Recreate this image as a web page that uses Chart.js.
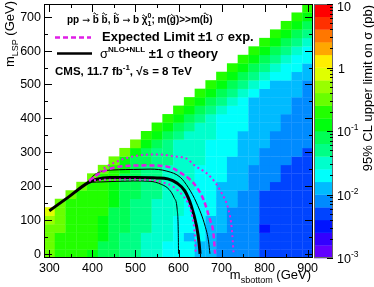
<!DOCTYPE html>
<html>
<head>
<meta charset="utf-8">
<script src="https://cdn.jsdelivr.net/npm/chart.js@4.4.0/dist/chart.umd.min.js"></script>
<style>
  html, body { margin: 0; padding: 0; background: #fff; }
  canvas { display: block; }
</style>
</head>
<body>
<canvas id="limitChart" width="374" height="287"></canvas>
<script>
// grid of signal points (GeV), 25 GeV steps
const msbottom = [300, 325, 350, 375, 400, 425, 450, 475, 500, 525, 550, 575, 600,
                  625, 650, 675, 700, 725, 750, 775, 800, 825, 850, 875, 900];
const mlsp = [0, 25, 50, 75, 100, 125, 150, 175, 200, 225, 250, 275, 300, 325, 350,
              375, 400, 425, 450, 475, 500, 525, 550, 575, 600, 625, 650, 675, 700, 725];

// 95% CL upper limit on sigma (pb), one list per msbottom column, mLSP = 0 upwards
const upperLimit = [
  [0.32, 0.32, 0.32, 0.32, 0.5, 0.8],
  [0.2, 0.2, 0.2, 0.32, 0.32, 0.32, 0.32],
  [0.2, 0.2, 0.2, 0.2, 0.2, 0.2, 0.2, 0.32],
  [0.2, 0.2, 0.2, 0.2, 0.2, 0.2, 0.2, 0.2, 0.32],
  [0.13, 0.2, 0.2, 0.2, 0.2, 0.2, 0.2, 0.2, 0.2, 0.32],
  [0.08, 0.08, 0.13, 0.13, 0.13, 0.2, 0.2, 0.2, 0.2, 0.2, 0.32],
  [0.08, 0.08, 0.08, 0.08, 0.08, 0.08, 0.13, 0.13, 0.13, 0.2, 0.2, 0.32],
  [0.05, 0.05, 0.05, 0.08, 0.08, 0.08, 0.08, 0.08, 0.08, 0.08, 0.13, 0.13, 0.32],
  [0.05, 0.05, 0.05, 0.05, 0.05, 0.05, 0.05, 0.08, 0.08, 0.08, 0.08, 0.08, 0.13, 0.32],
  [0.032, 0.032, 0.032, 0.05, 0.05, 0.05, 0.05, 0.05, 0.05, 0.05, 0.05, 0.08, 0.08, 0.13, 0.2],
  [0.032, 0.032, 0.032, 0.032, 0.032, 0.032, 0.032, 0.05, 0.05, 0.05, 0.05, 0.05, 0.05, 0.08, 0.13, 0.2],
  [0.02, 0.02, 0.032, 0.032, 0.032, 0.032, 0.032, 0.032, 0.032, 0.032, 0.032, 0.05, 0.05, 0.05, 0.08, 0.13, 0.2],
  [0.02, 0.02, 0.02, 0.02, 0.02, 0.032, 0.032, 0.032, 0.032, 0.032, 0.032, 0.032, 0.032, 0.032, 0.05, 0.08, 0.13, 0.2],
  [0.02, 0.02, 0.013, 0.02, 0.02, 0.02, 0.02, 0.02, 0.032, 0.032, 0.032, 0.032, 0.032, 0.032, 0.032, 0.05, 0.08, 0.13, 0.2],
  [0.013, 0.013, 0.02, 0.02, 0.02, 0.02, 0.02, 0.02, 0.02, 0.02, 0.02, 0.032, 0.032, 0.032, 0.032, 0.032, 0.05, 0.08, 0.13, 0.2],
  [0.013, 0.013, 0.013, 0.013, 0.013, 0.02, 0.02, 0.02, 0.02, 0.02, 0.02, 0.02, 0.02, 0.02, 0.032, 0.032, 0.032, 0.05, 0.08, 0.13, 0.2],
  [0.008, 0.008, 0.008, 0.013, 0.013, 0.013, 0.013, 0.013, 0.013, 0.02, 0.02, 0.02, 0.02, 0.02, 0.02, 0.02, 0.02, 0.032, 0.05, 0.08, 0.13, 0.2],
  [0.008, 0.008, 0.008, 0.008, 0.008, 0.008, 0.013, 0.013, 0.013, 0.013, 0.013, 0.013, 0.02, 0.02, 0.02, 0.02, 0.02, 0.02, 0.032, 0.05, 0.08, 0.13, 0.2],
  [0.008, 0.008, 0.008, 0.008, 0.008, 0.008, 0.008, 0.008, 0.013, 0.013, 0.013, 0.013, 0.013, 0.013, 0.013, 0.02, 0.02, 0.02, 0.02, 0.032, 0.05, 0.08, 0.13, 0.2],
  [0.008, 0.008, 0.008, 0.008, 0.008, 0.008, 0.008, 0.008, 0.008, 0.008, 0.008, 0.013, 0.013, 0.013, 0.013, 0.013, 0.013, 0.013, 0.013, 0.02, 0.032, 0.05, 0.08, 0.13, 0.2],
  [0.005, 0.005, 0.005, 0.0032, 0.005, 0.005, 0.005, 0.005, 0.008, 0.008, 0.008, 0.008, 0.008, 0.013, 0.013, 0.013, 0.013, 0.013, 0.013, 0.013, 0.02, 0.032, 0.05, 0.08, 0.13, 0.2],
  [0.005, 0.005, 0.005, 0.005, 0.005, 0.005, 0.005, 0.005, 0.005, 0.008, 0.008, 0.008, 0.008, 0.008, 0.008, 0.013, 0.013, 0.013, 0.013, 0.013, 0.013, 0.02, 0.032, 0.05, 0.08, 0.13, 0.2],
  [0.005, 0.005, 0.005, 0.005, 0.005, 0.005, 0.005, 0.005, 0.005, 0.005, 0.005, 0.008, 0.008, 0.008, 0.008, 0.008, 0.008, 0.013, 0.013, 0.013, 0.013, 0.02, 0.02, 0.032, 0.05, 0.08, 0.13, 0.2],
  [0.005, 0.005, 0.005, 0.005, 0.005, 0.005, 0.005, 0.005, 0.005, 0.005, 0.005, 0.005, 0.008, 0.008, 0.008, 0.008, 0.008, 0.008, 0.008, 0.013, 0.013, 0.013, 0.02, 0.02, 0.032, 0.05, 0.08, 0.13, 0.2],
  [0.005, 0.005, 0.005, 0.005, 0.005, 0.005, 0.005, 0.005, 0.005, 0.005, 0.005, 0.005, 0.005, 0.008, 0.008, 0.008, 0.008, 0.008, 0.008, 0.008, 0.008, 0.013, 0.013, 0.02, 0.02, 0.032, 0.05, 0.08, 0.13, 0.2]
];

// exclusion contours (msbottom, mLSP) in GeV
const obsMsb = [300, 345, 390, 410, 440, 500, 550, 575, 596, 615, 630, 642, 648, 650];
const obsMlsp = [127, 168, 210, 220, 225, 225, 224, 221, 209, 185, 140, 81, 30, 0];
const theoryUpMsb = [300, 345, 385, 400, 420, 460, 495, 534, 573, 604, 623, 642, 662, 670, 673];
const theoryUpMlsp = [127, 168, 205, 228, 243, 248, 249, 250, 244, 226, 195, 150, 81, 35, 0];
const theoryDownMsb = [300, 345, 385, 400, 418, 496, 534, 560, 578, 590, 597, 599.5, 600];
const theoryDownMlsp = [127, 168, 205, 211, 212, 215, 214, 205, 190, 165, 130, 60, 0];
const expMsb = [392, 420, 449, 490, 526, 572, 611, 638, 658, 673, 681, 685];
const expMlsp = [216, 240, 254, 260, 261, 258, 234, 204, 160, 101, 62, 0];
const expUpMsb = [400, 415, 434, 480, 534, 557, 588, 619, 636, 673, 700, 716, 724, 728];
const expUpMlsp = [222, 240, 258, 283, 293, 293, 288, 281, 262, 229, 180, 131, 72, 0];
const expDownMsb = [392, 420, 480, 534, 565, 588, 611, 622, 632, 638, 640];
const expDownMlsp = [216, 218, 219, 218, 210, 198, 170, 150, 110, 55, 0];

// axis ticks
const xTickLabels = [300, 400, 500, 600, 700, 800, 900];
const xMinorTicks = [350, 450, 550, 650, 750, 850];
const yTickLabels = [0, 100, 200, 300, 400, 500, 600, 700];
const yMinorTicks = [50, 150, 250, 350, 450, 550, 650];
const zTickExponents = [1, 0, -1, -2, -3];

const FONT = "'Liberation Sans', Arial, Helvetica, sans-serif";
const MAGENTA = '#e01ee6';
const binHalf = 12.5;

function toPoints(xs, ys) {
  return xs.map((v, i) => ({ x: v, y: ys[i] }));
}

// ROOT "pretty" palette, 20 contour bands over 10^-3 .. 10
function bandIndex(v) {
  const k = Math.floor((Math.log10(v) + 3) * 5 + 1e-6);
  return Math.max(0, Math.min(19, k));
}
function bandColor(k) {
  const idx = Math.floor((k + 0.99) * 50 / 20);
  const hue = 280 - (idx + 1) * 5.6;
  return 'hsl(' + hue + ',100%,50%)';
}

function drawTilde(ctx, cx, cy, w) {
  ctx.beginPath();
  for (let t = 0; t <= 1.001; t += 0.1) {
    const px = cx - w / 2 + t * w;
    const py = cy - 1.1 * Math.sin(t * 2 * Math.PI);
    if (t === 0) ctx.moveTo(px, py); else ctx.lineTo(px, py);
  }
  ctx.lineWidth = 1;
  ctx.strokeStyle = '#000';
  ctx.stroke();
}

// draw a run of text pieces (sizes, shifts, tildes); returns width
function drawParts(ctx, x, y, parts, dryRun) {
  let cx = x;
  parts.forEach(p => {
    ctx.font = (p.bold === false ? '' : 'bold ') + p.size + 'px ' + (p.family || FONT);
    const w = ctx.measureText(p.t).width;
    if (!dryRun) {
      ctx.fillText(p.t, cx, y + (p.dy || 0));
      if (p.tilde) drawTilde(ctx, cx + w / 2, y - p.tilde, Math.max(4.5, w * 0.75));
    }
    if (!p.stack) cx += w;
  });
  return cx - x;
}

const heatmapPlugin = {
  id: 'heatmap',
  beforeDatasetsDraw(chart) {
    const { ctx, chartArea: a, scales: { x, y, z } } = chart;
    ctx.save();
    ctx.beginPath();
    ctx.rect(a.left, a.top, a.right - a.left, a.bottom - a.top);
    ctx.clip();
    msbottom.forEach((ms, i) => {
      upperLimit[i].forEach((v, j) => {
        const m = mlsp[j];
        const x0 = x.getPixelForValue(ms - binHalf);
        const x1 = x.getPixelForValue(ms + binHalf);
        const y0 = y.getPixelForValue(m + binHalf);
        const y1 = y.getPixelForValue(m - binHalf);
        ctx.fillStyle = bandColor(bandIndex(v));
        ctx.fillRect(x0, y0, x1 - x0 + 0.3, y1 - y0 + 0.3);
      });
    });
    ctx.restore();

    // colour bar on the z (log) scale
    ctx.save();
    const bx0 = 314, bx1 = 333;
    for (let k = 0; k < 20; k++) {
      const lo = Math.pow(10, -3 + k / 5);
      const hi = Math.pow(10, -3 + (k + 1) / 5);
      const yt = z.getPixelForValue(hi);
      const yb = z.getPixelForValue(lo);
      ctx.fillStyle = bandColor(k);
      ctx.fillRect(bx0, yt, bx1 - bx0, yb - yt + 0.3);
    }
    ctx.strokeStyle = '#666';
    ctx.lineWidth = 1;
    ctx.strokeRect(bx0 + 0.5, a.top + 0.5, bx1 - bx0 - 1, a.bottom - a.top - 1);
    ctx.restore();
  },
  afterDraw(chart) {
    const { ctx, chartArea: a, scales: { x, y, z } } = chart;
    ctx.save();
    // frame
    ctx.strokeStyle = '#000';
    ctx.lineWidth = 1;
    ctx.strokeRect(a.left + 0.5, a.top + 0.5, a.right - a.left - 1, a.bottom - a.top - 1);

    // ticks on all four sides
    ctx.beginPath();
    xTickLabels.concat(xMinorTicks).forEach(v => {
      const px = Math.round(x.getPixelForValue(v)) + 0.5;
      const len = v % 100 === 0 ? 8 : 4;
      ctx.moveTo(px, a.bottom); ctx.lineTo(px, a.bottom - len);
      ctx.moveTo(px, a.top); ctx.lineTo(px, a.top + len);
    });
    yTickLabels.concat(yMinorTicks).forEach(v => {
      const py = Math.round(y.getPixelForValue(v)) + 0.5;
      const len = v % 100 === 0 ? 8 : 4;
      ctx.moveTo(a.left, py); ctx.lineTo(a.left + len, py);
      ctx.moveTo(a.right, py); ctx.lineTo(a.right - len, py);
    });
    ctx.stroke();

    // colour bar ticks
    ctx.beginPath();
    zTickExponents.forEach(e => {
      for (let d = 1; d <= 9; d++) {
        const v = d * Math.pow(10, e);
        if (v > 10.0001 || v < 0.00099) continue;
        const py = Math.round(z.getPixelForValue(v)) + 0.5;
        const len = d === 1 ? 6 : 3;
        ctx.moveTo(333, py); ctx.lineTo(333 - len, py);
      }
    });
    ctx.stroke();

    ctx.fillStyle = '#000';
    // x tick labels
    ctx.font = '12.5px ' + FONT;
    ctx.textAlign = 'center';
    ctx.textBaseline = 'alphabetic';
    xTickLabels.forEach(v => ctx.fillText(String(v), x.getPixelForValue(v), 272));
    // y tick labels
    ctx.textAlign = 'right';
    ctx.textBaseline = 'middle';
    yTickLabels.forEach(v => ctx.fillText(String(v), 41, y.getPixelForValue(v) + 0.5));

    // colour bar labels
    ctx.textAlign = 'left';
    ctx.textBaseline = 'middle';
    zTickExponents.forEach(e => {
      const py = Math.max(8, z.getPixelForValue(Math.pow(10, e)) + 2);
      ctx.font = '12.5px ' + FONT;
      if (e === 0) { ctx.fillText('1', 338, py); return; }
      ctx.fillText('10', 337, py);
      if (e < 0) {
        const w = ctx.measureText('10').width;
        ctx.font = '8.5px ' + FONT;
        ctx.fillText(String(e), 337 + w, py - 5);
      }
    });

    // axis titles
    ctx.textBaseline = 'alphabetic';
    ctx.textAlign = 'left';
    const xTitle = [
      { t: 'm', size: 13, bold: false },
      { t: 'sbottom', size: 9, bold: false, dy: 3.5 },
      { t: ' (GeV)', size: 13, bold: false }
    ];
    const xw = drawParts(ctx, 0, 0, xTitle, true);
    drawParts(ctx, 311 - xw, 279, xTitle);

    const yTitle = [
      { t: 'm', size: 13, bold: false },
      { t: 'LSP', size: 9, bold: false, dy: 3.5 },
      { t: ' (GeV)', size: 13, bold: false }
    ];
    const yw = drawParts(ctx, 0, 0, yTitle, true);
    ctx.save();
    ctx.translate(14, 1);
    ctx.rotate(-Math.PI / 2);
    drawParts(ctx, -yw, 0, yTitle);
    ctx.restore();

    const zTitle = [{ t: '95% CL upper limit on \u03C3 (pb)', size: 13, bold: false }];
    const zw = drawParts(ctx, 0, 0, zTitle, true);
    ctx.save();
    ctx.translate(372, 5);
    ctx.rotate(-Math.PI / 2);
    drawParts(ctx, -zw, 0, zTitle);
    ctx.restore();

    // legend text block
    const arrowFont = "'DejaVu Sans', sans-serif";
    drawParts(ctx, 67, 23, [
      { t: 'pp ', size: 10 },
      { t: '\u2192', size: 9.5, bold: false, family: arrowFont },
      { t: ' ', size: 10 },
      { t: 'b', size: 10, tilde: 9 }, { t: ' ', size: 10 },
      { t: 'b', size: 10, tilde: 9 }, { t: ', ', size: 10 },
      { t: 'b', size: 10, tilde: 9 }, { t: ' ', size: 10 },
      { t: '\u2192', size: 9.5, bold: false, family: arrowFont },
      { t: ' b ', size: 10 },
      { t: '\u03C7', size: 10, tilde: 7 },
      { t: '0', size: 7, dy: -5.5, stack: true }, { t: '1', size: 7, dy: 3 },
      { t: '; m(', size: 10 },
      { t: 'g', size: 10, tilde: 7.5 },
      { t: ')>>m(', size: 10 },
      { t: 'b', size: 10, tilde: 9 },
      { t: ')', size: 10 }
    ]);

    ctx.setLineDash([5, 3]);
    ctx.strokeStyle = MAGENTA;
    ctx.lineWidth = 2.5;
    ctx.beginPath(); ctx.moveTo(55, 37.5); ctx.lineTo(91, 37.5); ctx.stroke();
    ctx.setLineDash([]);
    ctx.strokeStyle = '#000';
    ctx.lineWidth = 2.5;
    ctx.beginPath(); ctx.moveTo(57, 53.5); ctx.lineTo(92, 53.5); ctx.stroke();

    drawParts(ctx, 102, 41, [
      { t: 'Expected Limit \u00B11 ', size: 13 },
      { t: '\u03C3', size: 13, bold: false },
      { t: ' exp.', size: 13 }
    ]);
    drawParts(ctx, 100, 57.5, [
      { t: '\u03C3', size: 13, bold: false },
      { t: 'NLO+NLL', size: 8, dy: -6 },
      { t: ' \u00B11 ', size: 13 },
      { t: '\u03C3', size: 13, bold: false },
      { t: ' theory', size: 13 }
    ]);
    drawParts(ctx, 55, 75, [
      { t: 'CMS, 11.7 fb', size: 11.5 },
      { t: '-1', size: 8, dy: -5 },
      { t: ', \u221As = 8 TeV', size: 11.5 }
    ]);
    ctx.restore();
  }
};

const lineStyle = { showLine: true, pointRadius: 0, fill: false, cubicInterpolationMode: 'monotone' };

new Chart(document.getElementById('limitChart'), {
  type: 'scatter',
  data: {
    datasets: [
      Object.assign({ label: 'Expected +1 sigma', data: toPoints(expUpMsb, expUpMlsp),
        borderColor: MAGENTA, borderWidth: 2, borderDash: [2, 3] }, lineStyle),
      Object.assign({ label: 'Expected -1 sigma', data: toPoints(expDownMsb, expDownMlsp),
        borderColor: MAGENTA, borderWidth: 2, borderDash: [2, 3] }, lineStyle),
      Object.assign({ label: 'Expected', data: toPoints(expMsb, expMlsp),
        borderColor: MAGENTA, borderWidth: 2.5, borderDash: [5, 3] }, lineStyle),
      Object.assign({ label: 'Theory +1 sigma', data: toPoints(theoryUpMsb, theoryUpMlsp),
        borderColor: '#000', borderWidth: 1 }, lineStyle),
      Object.assign({ label: 'Theory -1 sigma', data: toPoints(theoryDownMsb, theoryDownMlsp),
        borderColor: '#000', borderWidth: 1 }, lineStyle),
      Object.assign({ label: 'Observed', data: toPoints(obsMsb, obsMlsp),
        borderColor: '#000', borderWidth: 3 }, lineStyle)
    ]
  },
  options: {
    responsive: false,
    animation: false,
    devicePixelRatio: 1,
    layout: { padding: { left: 44, right: 61, top: 4, bottom: 29 } },
    scales: {
      x: { type: 'linear', min: 287.5, max: 912.5, display: false },
      y: { type: 'linear', min: -12.5, max: 737.5, display: false },
      z: { type: 'logarithmic', position: 'right', min: 0.001, max: 10, display: false }
    },
    plugins: { legend: { display: false }, tooltip: { enabled: false } }
  },
  plugins: [heatmapPlugin]
});
</script>
</body>
</html>
